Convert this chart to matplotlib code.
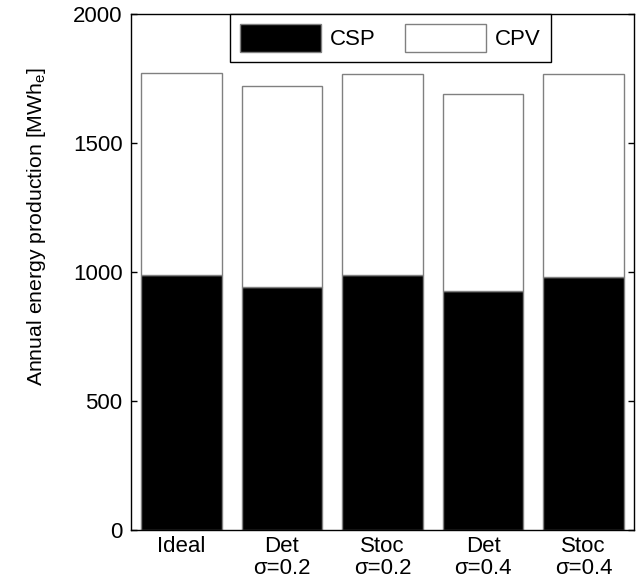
import numpy as np
import matplotlib.pyplot as plt

plt.rcParams['font.family'] = ['Liberation Sans', 'DejaVu Sans']
plt.rcParams['mathtext.fontset'] = 'custom'
plt.rcParams['mathtext.rm'] = 'Liberation Sans'

categories = ['Ideal', 'Det\n\u03c3=0.2', 'Stoc\n\u03c3=0.2', 'Det\n\u03c3=0.4', 'Stoc\n\u03c3=0.4']
csp = np.array([990, 943, 989, 928, 981])
cpv = np.array([784, 778, 779, 763, 787])
y_ticks = [0, 500, 1000, 1500, 2000]

fig = plt.figure(figsize=(6.4, 5.84), dpi=100)
ax = fig.add_axes([0.2047, 0.0925, 0.7859, 0.8827])

x = np.arange(1, len(categories) + 1)
ax.bar(x, csp, width=0.8, color='black', edgecolor='#808080', linewidth=1.0, label='CSP')
ax.bar(x, cpv, width=0.8, bottom=csp, color='white', edgecolor='#808080', linewidth=1.0, label='CPV')

ax.set_xlim(0.5, 5.5)
ax.set_ylim(0, 2000)
ax.set_yticks(y_ticks)
ax.set_xticks(x)
ax.set_xticklabels(categories, fontsize=16, linespacing=1.1)
ax.tick_params(axis='y', direction='in', length=4, width=1, labelsize=16, right=True, pad=6)
ax.tick_params(axis='x', length=0, pad=4)
for s in ax.spines.values():
    s.set_linewidth(1.0)

ax.set_ylabel('Annual energy production [MWh$_\\mathrm{e}$]', fontsize=15.3)
ax.yaxis.set_label_coords(-0.165, 0.589)

leg = ax.legend(loc='upper center', bbox_to_anchor=(0.516, 1.0), ncol=2, fontsize=16,
                frameon=True, fancybox=False, edgecolor='black', framealpha=1,
                handlelength=3.65, handleheight=1.5, columnspacing=1.3, handletextpad=0.4,
                borderaxespad=0, borderpad=0.45)
leg.get_frame().set_linewidth(1.0)

fig.savefig('out.png', dpi=100)
